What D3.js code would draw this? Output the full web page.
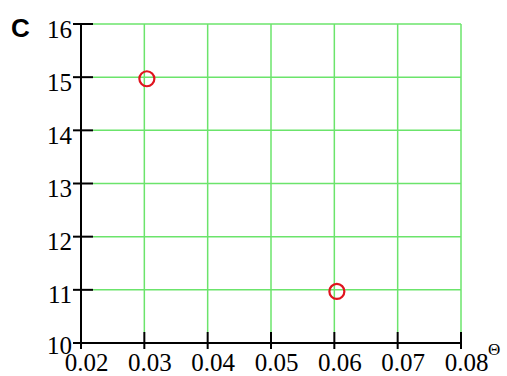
<!DOCTYPE html>
<html><head><meta charset="utf-8">
<script src="https://cdn.jsdelivr.net/npm/d3@7/dist/d3.min.js"></script>
<style>body{margin:0;background:#fff} .serif{font-family:'Liberation Serif','Times New Roman',serif}</style>
</head><body>
<svg id="c" width="507" height="376"></svg>
<script>
const xTicks = [0.02, 0.03, 0.04, 0.05, 0.06, 0.07, 0.08];
const yTicks = [10, 11, 12, 13, 14, 15, 16];
const pointsX = [0.0304, 0.0604];
const pointsY = [14.97, 10.97];
const xLabels = ["0.02","0.03","0.04","0.05","0.06","0.07","0.08"];
const yLabels = ["10","11","12","13","14","15","16"];

const svg = d3.select("#c");
const x = d3.scaleLinear().domain([0.02, 0.08]).range([81, 461]);
const y = d3.scaleLinear().domain([10, 16]).range([343, 24]);
const green = "#6be46b";

// grid
svg.append("g").selectAll("line").data(xTicks.slice(1)).join("line")
  .attr("x1", d => x(d)).attr("x2", d => x(d))
  .attr("y1", y(16)).attr("y2", y(10) - 11)
  .attr("stroke", green).attr("stroke-width", 1.5);
svg.append("g").selectAll("line").data(yTicks.slice(1)).join("line")
  .attr("x1", x(0.02) + 12).attr("x2", x(0.08))
  .attr("y1", d => y(d)).attr("y2", d => y(d))
  .attr("stroke", green).attr("stroke-width", 1.5);

// axes
const xAxis = d3.axisBottom(x).tickValues(xTicks).tickSize(0).tickPadding(0).tickFormat((d,i)=>xLabels[i]);
const yAxis = d3.axisLeft(y).tickValues(yTicks).tickSize(0).tickPadding(0).tickFormat((d,i)=>yLabels[i]);

svg.append("line").attr("x1", x(0.02)).attr("x2", x(0.08)).attr("y1", y(10)).attr("y2", y(10))
  .attr("stroke", "#000").attr("stroke-width", 2);
svg.append("line").attr("x1", x(0.02)).attr("x2", x(0.02)).attr("y1", y(16)).attr("y2", y(10) + 5)
  .attr("stroke", "#000").attr("stroke-width", 2);

// tick marks
svg.append("g").selectAll("line").data(xTicks).join("line")
  .attr("x1", d => x(d)).attr("x2", d => x(d))
  .attr("y1", y(10) - 11).attr("y2", y(10) + 6)
  .attr("stroke", "#000").attr("stroke-width", 2);
svg.append("g").selectAll("line").data(yTicks).join("line")
  .attr("x1", x(0.02) - 8).attr("x2", x(0.02) + 12)
  .attr("y1", d => y(d)).attr("y2", d => y(d))
  .attr("stroke", "#000").attr("stroke-width", 2);

const gx = svg.append("g").attr("transform", `translate(5,0)`).call(xAxis);
gx.attr("font-family", null).attr("font-size", null);
gx.select(".domain").remove();
gx.selectAll("text").attr("class", "serif").style("font-size", "25px").attr("fill", "#000")
  .attr("y", 371).attr("dy", null);

const gy = svg.append("g").attr("transform", `translate(72,0)`).call(yAxis);
gy.attr("font-family", null).attr("font-size", null);
gy.select(".domain").remove();
gy.selectAll("text").attr("class", "serif").style("font-size", "25px").attr("fill", "#000")
  .attr("x", 0).attr("dy", null).attr("y", 13);
gy.selectAll(".tick").filter(d => d === 10).select("text").attr("y", 10);

// points
svg.append("g").selectAll("circle").data(pointsX).join("circle")
  .attr("cx", d => x(d)).attr("cy", (d,i) => y(pointsY[i]))
  .attr("r", 7.5).attr("fill", "none").attr("stroke", "#e0141e").attr("stroke-width", 2.2);

// labels
svg.append("text").attr("x", 11).attr("y", 37).text("C")
  .attr("font-family", "Liberation Sans").attr("font-weight", "bold").attr("font-size", 26);
svg.append("text").attr("x", 488).attr("y", 355).text("Θ").attr("class", "serif")
  .style("font-size", "17px");
</script>
</body></html>
